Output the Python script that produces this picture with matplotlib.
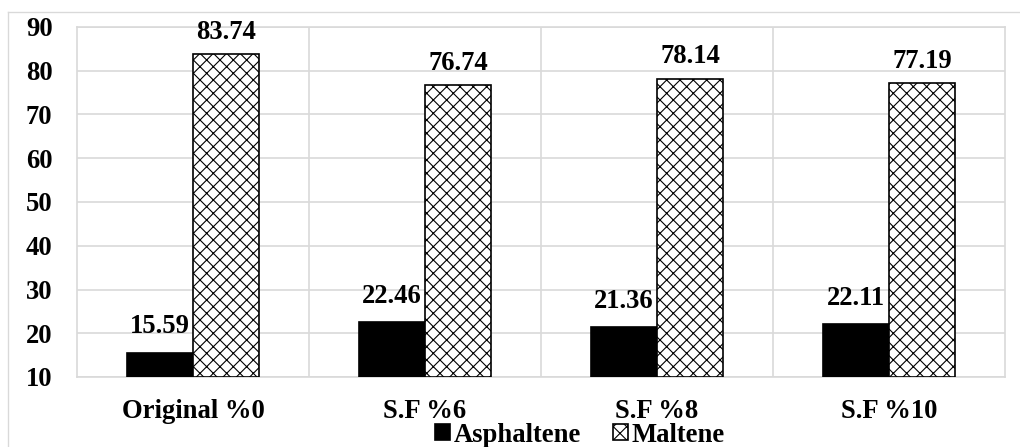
import numpy as np
import matplotlib.pyplot as plt
from matplotlib.lines import Line2D

categories = ['Original %0', 'S.F %6', 'S.F %8', 'S.F %10']
asphaltene = [15.59, 22.46, 21.36, 22.11]
maltene = [83.74, 76.74, 78.14, 77.19]

plt.rcParams['font.family'] = 'Liberation Serif'
plt.rcParams['font.weight'] = 'bold'
plt.rcParams['hatch.linewidth'] = 1.0

W, H, DPI = 1020, 447, 80
FS = 24
fig = plt.figure(figsize=(W / DPI, H / DPI), dpi=DPI)
ax = fig.add_axes([77 / W, 1 - 377 / H, 928 / W, 350 / H])

x = np.arange(len(categories))
w = 0.285
b1 = ax.bar(x - w / 2, [a - 10 for a in asphaltene], w, bottom=10, color='black',
            edgecolor='black', linewidth=1.5, label='Asphaltene', zorder=3)
b2 = ax.bar(x + w / 2, [m - 10 for m in maltene], w, bottom=10, color='white',
            edgecolor='black', hatch='xx', linewidth=1.5, label='Maltene', zorder=3)

for xi, v in zip(x - w / 2, asphaltene):
    ax.annotate(f'{v:.2f}', (xi, v), xytext=(0, 26), textcoords='offset pixels',
                ha='center', va='center', fontsize=FS, fontweight='bold')
for xi, v in zip(x + w / 2, maltene):
    ax.annotate(f'{v:.2f}', (xi, v), xytext=(0, 22), textcoords='offset pixels',
                ha='center', va='center', fontsize=FS, fontweight='bold')

ax.set_xlim(-0.5, len(categories) - 0.5)
ax.set_ylim(10, 90)
ax.set_yticks(range(10, 91, 10))
ax.set_xticks(x)
ax.set_xticklabels(categories, fontsize=FS, fontweight='bold')
ax.tick_params(axis='y', labelsize=FS, length=0, pad=22)
ax.tick_params(axis='x', length=0, pad=20)
for lab in ax.get_yticklabels():
    lab.set_fontweight('bold')

grid_c = '#d9d9d9'
ax.grid(axis='y', color=grid_c, linewidth=1.5, zorder=0)
for b in np.arange(0.5, len(categories) - 0.5, 1):
    ax.axvline(b, color=grid_c, linewidth=1.5, zorder=0)
for s in ax.spines.values():
    s.set_color(grid_c)
    s.set_linewidth(1.5)

# outer chart border
fig.add_artist(Line2D([8 / W, 8 / W], [0, 1 - 12 / H], transform=fig.transFigure,
                      color=grid_c, linewidth=1.2))
fig.add_artist(Line2D([8 / W, 1], [1 - 12 / H, 1 - 12 / H], transform=fig.transFigure,
                      color=grid_c, linewidth=1.2))

fig.legend(handles=[b1, b2], loc='center', bbox_to_anchor=(580 / W, 1 - 435 / H),
           ncol=2, frameon=False, handlelength=0.55, handleheight=0.55,
           handletextpad=0.15, columnspacing=1.2, borderpad=0,
           prop={'weight': 'bold', 'size': FS})

fig.savefig('out.png', dpi=DPI)
